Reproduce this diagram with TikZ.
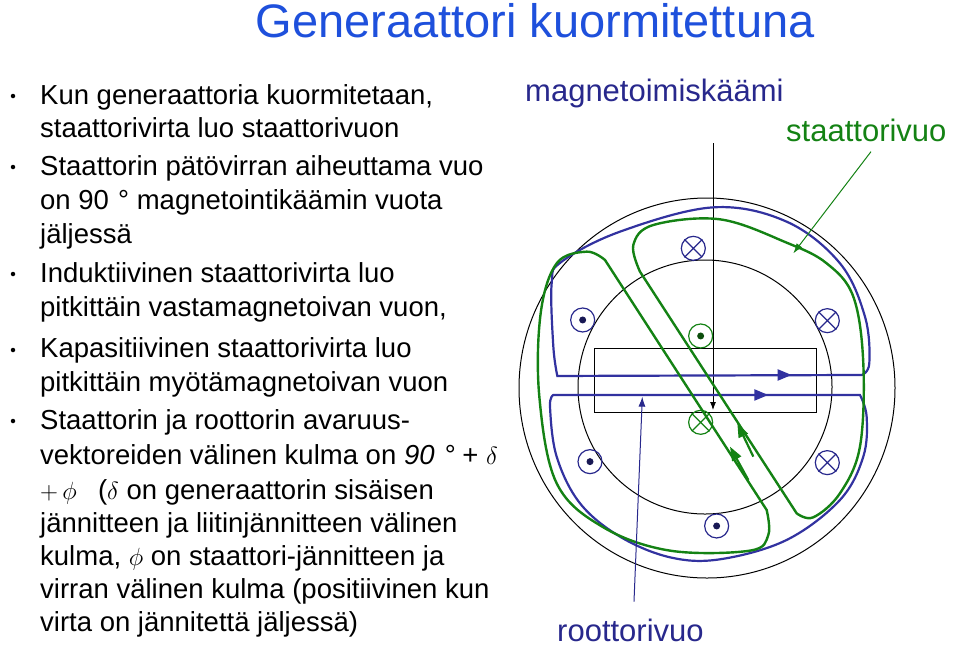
\documentclass[tikz,border=0pt]{standalone}
\usepackage{fontspec}
\setmainfont{Liberation Sans}
\usetikzlibrary{arrows.meta}
\definecolor{tblue}{RGB}{30,80,220}
\definecolor{navy}{RGB}{40,40,140}
\definecolor{fblue}{RGB}{50,50,160}
\definecolor{fgreen}{RGB}{20,130,20}
\tikzset{
 txt/.style={anchor=base west,inner sep=0,font=\fontsize{27.5}{30}\selectfont},
 bul/.style={circle,fill=black,inner sep=0,minimum size=4.5pt},
 lbl/.style={anchor=base west,inner sep=0,font=\fontsize{31}{35}\selectfont},
 bflux/.style={draw=fblue,line width=2.2pt},
 gflux/.style={draw=fgreen,line width=2.4pt},
 dotc/.style={circle,draw,minimum size=8mm,inner sep=0,line width=1.2pt},
}
\newcommand{\dotsym}[3]{\node[dotc,draw=#2,minimum size=24pt] (#3) at #1 {}; \fill[#2!60!black] (#3) circle (3.5pt);}
\newcommand{\crosssym}[3]{\node[dotc,draw=#2,minimum size=24pt] (#3) at #1 {}; \draw[#2,line width=1.2pt] (#3.north east)--(#3.south west) (#3.north west)--(#3.south east);}
\begin{document}
\begin{tikzpicture}[x=1pt,y=-1pt]
\useasboundingbox (0,0) rectangle (960,649);
\node[anchor=base,inner sep=0,text=tblue,font=\fontsize{47}{52}\selectfont] (title) at (535,37) {Generaattori kuormitettuna};
\foreach \y [count=\i] in {96,167,274,350,421}{\node[bul] (b\i) at (13,\y) {};}
\node[txt] (l1) at (40,104) {Kun generaattoria kuormitetaan,};
\node[txt] (l2) at (40,137) {staattorivirta luo staattorivuon};
\node[txt] (l3) at (40,175) {Staattorin pätövirran aiheuttama vuo};
\node[txt] (l4) at (40,209) {on 90\,\,° magnetointikäämin vuota};
\node[txt] (l5) at (40,243) {jäljessä};
\node[txt] (l6) at (40,282) {Induktiivinen staattorivirta luo};
\node[txt] (l7) at (40,316) {pitkittäin vastamagnetoivan vuon,};
\node[txt] (l8) at (40,357) {Kapasitiivinen staattorivirta luo};
\node[txt] (l9) at (40,391) {pitkittäin myötämagnetoivan vuon};
\node[txt] (l10) at (40,429) {Staattorin ja roottorin avaruus-};
\node[txt] (l11) at (40,464) {vektoreiden välinen kulma on \textit{90\,\,°} + $\delta$};
\node[txt] (l12) at (40,499) {$+\,\phi$\,\,\, ($\delta$ on generaattorin sisäisen};
\node[txt] (l13) at (40,532) {jännitteen ja liitinjännitteen välinen};
\node[txt] (l14) at (40,565) {kulma, $\phi$ on staattori-jännitteen ja};
\node[txt] (l15) at (40,598) {virran välinen kulma (positiivinen kun};
\node[txt] (l16) at (40,631) {virta on jännitettä jäljessä)};
\node[lbl,text=navy] (mk) at (525,101) {magnetoimiskäämi};
\node[lbl,text=fgreen] (sv) at (786,141) {staattorivuo};
\node[lbl,text=navy] (rv) at (557,641) {roottorivuo};
% machine
\draw[line width=1pt] (707,388) ellipse (188 and 190);
\draw[line width=1pt] (705,387) circle (127);
\draw[line width=1pt] (594,348) rectangle (816,412);
\coordinate (mtop) at (713,143);
\coordinate (mbot) at (713,410);
\draw[line width=0.9pt,-{Latex[length=8pt,width=6pt]}] (mtop) -- (mbot);
\begin{scope}[shift={(520,130)},x=0.3333pt,y=-0.3333pt]
\draw[bflux] plot[smooth,tension=0.6] coordinates{(1025,735)(1048,700)(1035,560)(960,400)(800,275)(580,232)(300,305)(125,395)(95,460)(100,650)(112,738)} -- cycle;
\draw[bflux] plot[smooth,tension=0.6] coordinates{(100,795)(90,830)(110,980)(180,1120)(300,1220)(450,1282)(600,1288)(800,1230)(960,1110)(1030,980)(1040,860)(1020,795)} -- cycle;
\draw[gflux] plot[smooth,tension=0.6] coordinates{(740,1140)(745,1215)(690,1262)(450,1262)(250,1192)(110,1060)(58,800)(62,550)(110,400)(200,365)(255,390)} -- cycle;
\draw[gflux] plot[smooth,tension=0.6] coordinates{(360,425)(340,345)(400,285)(600,268)(800,338)(920,400)(1000,500)(1030,700)(1020,950)(960,1090)(880,1162)(830,1150)} -- cycle;
\draw[fblue,line width=2.2pt,-{Triangle[length=14pt,width=11pt]}] (700,735) -- (815,735);
\draw[fblue,line width=2.2pt,-{Triangle[length=14pt,width=11pt]}] (620,795) -- (745,795);
\draw[fgreen,line width=2.2pt,-{Triangle[length=14pt,width=10pt]}] (700,980) -- (652,880);
\draw[fgreen,line width=2.2pt,-{Triangle[length=14pt,width=10pt]}] (685,1050) -- (630,950);
\crosssym{(520,355)}{navy}{c1}
\crosssym{(922,572)}{navy}{c2}
\crosssym{(922,998)}{navy}{c3}
\crosssym{(542,877)}{fgreen}{c4}
\dotsym{(188,570)}{navy}{d1}
\dotsym{(210,995)}{navy}{d2}
\dotsym{(590,1188)}{navy}{d3}
\dotsym{(542,618)}{fgreen}{d4}
\coordinate (sa) at (1053,65);
\coordinate (sb) at (820,370);
\coordinate (ra) at (342,1415);
\coordinate (rb) at (367,800);
\end{scope}
\draw[fgreen,line width=1pt,-{Latex[length=10pt,width=7pt]}] (sa) -- (sb);
\draw[navy,line width=1pt,-{Latex[length=10pt,width=7pt]}] (ra) -- (rb);
\end{tikzpicture}
\end{document}
